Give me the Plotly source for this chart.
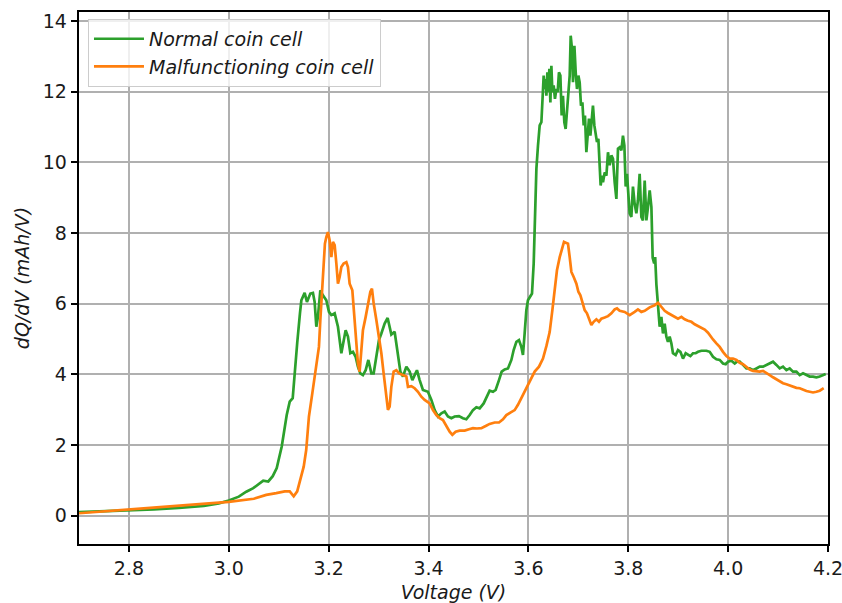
import plotly.graph_objects as go

# Differential capacity curves, dQ/dV versus cell voltage
normal_voltage = [
    2.700, 2.750, 2.800, 2.850, 2.900, 2.950, 2.980, 3.000, 3.020, 3.035, 3.049, 3.060, 3.069, 3.079,
    3.088, 3.096, 3.106, 3.116, 3.122, 3.128, 3.132, 3.137, 3.1425, 3.1453, 3.1519, 3.1565, 3.1633,
    3.1685, 3.1719, 3.1753, 3.1785, 3.1833, 3.1885, 3.1953, 3.2006, 3.2054, 3.2120, 3.2186, 3.2254,
    3.2300, 3.2340, 3.2386, 3.2434, 3.2486, 3.2540, 3.2586, 3.2634, 3.2686, 3.2741, 3.2795, 3.2855,
    3.2901, 3.2955, 3.3007, 3.3055, 3.3121, 3.3181, 3.3255, 3.3321, 3.3388, 3.3436, 3.3488, 3.3556,
    3.3622, 3.3676, 3.3722, 3.3768, 3.3822, 3.3888, 3.3988, 3.4057, 3.4123, 3.4189, 3.4257, 3.4323,
    3.4389, 3.4457, 3.4523, 3.4609, 3.4689, 3.4757, 3.4824, 3.4890, 3.4958, 3.5024, 3.5104, 3.5170,
    3.5224, 3.5291, 3.5344, 3.5411, 3.5465, 3.5525, 3.5591, 3.5659, 3.5705, 3.5759, 3.5811, 3.5859,
    3.5891, 3.5925, 3.5959, 3.5991, 3.6025, 3.6072, 3.6106, 3.6126, 3.6160, 3.6192, 3.6226, 3.6260,
    3.6280, 3.6306, 3.6326, 3.6346, 3.6360, 3.6380, 3.6400, 3.6420, 3.6440, 3.6460, 3.6480, 3.6506,
    3.6532, 3.6560, 3.6586, 3.6612, 3.6640, 3.6666, 3.6692, 3.6720, 3.6746, 3.6772, 3.6801, 3.6827,
    3.6847, 3.6873, 3.6893, 3.6921, 3.6947, 3.6973, 3.7001, 3.7027, 3.7053, 3.7081, 3.7107, 3.7133,
    3.7161, 3.7187, 3.7213, 3.7241, 3.7267, 3.7293, 3.7321, 3.7347, 3.7373, 3.7401, 3.7427, 3.7447,
    3.7473, 3.7494, 3.7528, 3.7562, 3.7594, 3.7628, 3.7662, 3.7694, 3.7728, 3.7762, 3.7794, 3.7828,
    3.7862, 3.7894, 3.7922, 3.7948, 3.7974, 3.8002, 3.8028, 3.8062, 3.8094, 3.8128, 3.8162, 3.8194,
    3.8228, 3.8262, 3.8294, 3.8329, 3.8363, 3.8395, 3.8429, 3.8463, 3.8489, 3.8519, 3.8539, 3.8563,
    3.8595, 3.8629, 3.8663, 3.8695, 3.8729, 3.8763, 3.8795, 3.8829, 3.8863, 3.8895, 3.8949, 3.8996,
    3.9044, 3.9096, 3.9150, 3.9196, 3.9244, 3.9296, 3.9350, 3.9397, 3.9465, 3.9565, 3.9631, 3.9697,
    3.9765, 3.9831, 3.9897, 3.9951, 3.9997, 4.0065, 4.0132, 4.0178, 4.0232, 4.0298, 4.0366, 4.0432,
    4.0498, 4.0566, 4.0632, 4.0699, 4.0767, 4.0833, 4.0899, 4.0967, 4.1033, 4.1099, 4.1167, 4.1233,
    4.1299, 4.1367, 4.1434, 4.1500, 4.1568, 4.1634, 4.1700, 4.1768, 4.1834, 4.1900, 4.1954,
]
normal_dqdv = [
    0.10, 0.12, 0.15, 0.18, 0.22, 0.28, 0.35, 0.43, 0.54, 0.68, 0.78, 0.90, 0.99, 0.97,
    1.12, 1.35, 1.96, 2.85, 3.23, 3.33, 3.93, 4.89, 5.73, 6.10, 6.31, 6.05, 6.29,
    6.31, 6.05, 5.35, 5.63, 6.38, 6.24, 6.10, 5.77, 5.68, 5.73, 5.35, 4.60,
    4.97, 5.25, 5.07, 4.60, 4.64, 4.50, 4.22, 4.03, 3.98, 4.12, 4.41, 4.03,
    4.03, 4.50, 4.97, 5.16, 5.44, 5.60, 5.13, 5.21, 4.60, 4.08, 3.94, 4.22,
    4.08, 3.84, 3.98, 4.12, 3.84, 3.56, 3.51, 3.28, 2.99, 2.81, 2.90, 2.95,
    2.81, 2.76, 2.81, 2.82, 2.76, 2.73, 2.85, 2.99, 3.07, 3.04, 3.18, 3.37,
    3.54, 3.51, 3.56, 3.84, 4.08, 4.14, 4.17, 4.41, 4.69, 4.92, 4.97, 4.78,
    4.55, 5.16, 5.82, 6.10, 6.20, 6.29, 7.14, 8.40, 9.82, 10.48, 11.05, 11.14,
    11.99, 12.46, 12.08, 12.36, 11.89, 12.55, 11.99, 12.65, 11.70, 12.74, 11.99, 12.18,
    11.80, 12.08, 11.99, 12.55, 12.46, 11.33, 11.89, 11.14, 10.95, 11.52, 12.08, 12.46,
    13.59, 13.21, 12.27, 13.30, 12.55, 12.08, 12.46, 12.27, 11.61, 11.70, 11.05, 11.33,
    10.29, 10.76, 11.24, 10.76, 11.14, 11.61, 11.05, 10.86, 10.58, 10.67, 9.92, 9.35,
    9.63, 9.44, 9.72, 9.63, 10.29, 9.92, 10.20, 10.10, 9.44, 8.97, 10.39, 10.43,
    10.34, 10.76, 10.48, 9.32, 9.68, 9.12, 8.56, 8.46, 9.32, 8.83, 8.56, 8.93,
    9.68, 8.46, 8.36, 9.49, 8.36, 8.74, 9.21, 8.74, 7.30, 7.14, 7.32, 6.55,
    5.90, 5.35, 5.63, 5.16, 5.44, 5.07, 4.92, 5.07, 4.88, 4.60, 4.55, 4.69,
    4.64, 4.45, 4.60, 4.55, 4.52, 4.60, 4.60, 4.64, 4.67, 4.67, 4.64, 4.50,
    4.43, 4.41, 4.31, 4.29, 4.36, 4.39, 4.31, 4.36, 4.36, 4.27, 4.17, 4.17,
    4.12, 4.17, 4.22, 4.22, 4.27, 4.31, 4.36, 4.27, 4.17, 4.22, 4.12, 4.17,
    4.08, 4.08, 3.98, 4.03, 3.98, 3.94, 3.94, 3.92, 3.94, 3.98, 4.01,
]

faulty_voltage = [
    2.700, 2.750, 2.800, 2.850, 2.900, 2.950, 3.000, 3.050, 3.075, 3.095, 3.112, 3.122, 3.130, 3.137,
    3.145, 3.150, 3.155, 3.1605, 3.1673, 3.1719, 3.1765, 3.1805, 3.1833, 3.1853, 3.1873, 3.1899,
    3.1925, 3.1953, 3.1985, 3.2019, 3.2054, 3.2086, 3.2120, 3.2154, 3.2186, 3.2220, 3.2254, 3.2300,
    3.2354, 3.2386, 3.2420, 3.2474, 3.2520, 3.2554, 3.2586, 3.2620, 3.2654, 3.2686, 3.2741, 3.2787,
    3.2835, 3.2867, 3.2901, 3.2955, 3.3007, 3.3055, 3.3101, 3.3141, 3.3187, 3.3221, 3.3255, 3.3301,
    3.3355, 3.3411, 3.3476, 3.3556, 3.3588, 3.3656, 3.3722, 3.3788, 3.3856, 3.3922, 3.4022, 3.4089,
    3.4157, 3.4223, 3.4289, 3.4357, 3.4423, 3.4477, 3.4543, 3.4623, 3.4724, 3.4810, 3.4890, 3.4970,
    3.5058, 3.5144, 3.5224, 3.5324, 3.5411, 3.5491, 3.5559, 3.5639, 3.5725, 3.5791, 3.5859, 3.5925,
    3.5991, 3.6060, 3.6126, 3.6212, 3.6292, 3.6360, 3.6426, 3.6480, 3.6526, 3.6572, 3.6627, 3.6681,
    3.6713, 3.6761, 3.6793, 3.6827, 3.6861, 3.6907, 3.6961, 3.7001, 3.7041, 3.7081, 3.7127, 3.7173,
    3.7213, 3.7261, 3.7307, 3.7361, 3.7413, 3.7461, 3.7528, 3.7594, 3.7662, 3.7728, 3.7774, 3.7828,
    3.7928, 3.8028, 3.8128, 3.8194, 3.8262, 3.8329, 3.8429, 3.8529, 3.8595, 3.8663, 3.8729, 3.8795,
    3.8863, 3.8930, 3.8996, 3.9064, 3.9130, 3.9196, 3.9264, 3.9330, 3.9397, 3.9465, 3.9531, 3.9597,
    3.9645, 3.9697, 3.9765, 3.9831, 3.9897, 3.9965, 4.0031, 4.0098, 4.0166, 4.0232, 4.0298, 4.0366,
    4.0432, 4.0498, 4.0566, 4.0632, 4.0699, 4.0767, 4.0833, 4.0899, 4.0967, 4.1033, 4.1099, 4.1167,
    4.1233, 4.1299, 4.1367, 4.1434, 4.1500, 4.1568, 4.1634, 4.1700, 4.1768, 4.1834, 4.1914,
]
faulty_dqdv = [
    0.07, 0.12, 0.17, 0.22, 0.28, 0.33, 0.39, 0.48, 0.59, 0.64, 0.69, 0.69, 0.55, 0.69,
    1.11, 1.39, 1.86, 2.81, 3.47, 3.93, 4.31, 4.78, 5.54, 6.01, 6.67, 7.42,
    7.70, 7.89, 8.03, 7.80, 7.32, 7.75, 7.66, 7.14, 6.57, 6.76, 7.04, 7.14,
    7.18, 7.04, 6.57, 6.38, 5.63, 4.88, 4.31, 4.08, 4.78, 5.25, 5.63, 6.01,
    6.34, 6.43, 6.01, 5.54, 5.11, 4.60, 4.03, 3.47, 3.00, 3.09, 3.65, 4.08,
    4.12, 4.03, 3.98, 3.94, 3.65, 3.67, 3.61, 3.51, 3.37, 3.28, 3.18, 2.99,
    2.85, 2.76, 2.71, 2.52, 2.38, 2.29, 2.38, 2.41, 2.41, 2.45, 2.48, 2.47,
    2.48, 2.54, 2.60, 2.64, 2.64, 2.73, 2.85, 2.92, 2.99, 3.14, 3.33, 3.51,
    3.70, 3.89, 4.08, 4.22, 4.45, 4.80, 5.20, 5.82, 6.38, 6.95, 7.32, 7.61,
    7.75, 7.72, 7.70, 7.32, 6.90, 6.76, 6.57, 6.34, 6.24, 6.05, 5.82, 5.73,
    5.58, 5.40, 5.49, 5.56, 5.49, 5.58, 5.61, 5.65, 5.73, 5.84, 5.87, 5.80,
    5.77, 5.68, 5.77, 5.84, 5.77, 5.80, 5.90, 5.96, 6.03, 5.90, 5.80, 5.74,
    5.68, 5.63, 5.58, 5.63, 5.56, 5.52, 5.49, 5.42, 5.37, 5.30, 5.27, 5.18,
    5.07, 4.99, 4.88, 4.78, 4.64, 4.52, 4.45, 4.45, 4.41, 4.33, 4.29, 4.22,
    4.14, 4.10, 4.08, 4.08, 4.10, 4.05, 3.98, 3.92, 3.86, 3.79, 3.75, 3.72,
    3.68, 3.65, 3.62, 3.61, 3.56, 3.53, 3.51, 3.49, 3.51, 3.54, 3.61,
]

x_ticks = [2.8, 3.0, 3.2, 3.4, 3.6, 3.8, 4.0, 4.2]
x_tick_labels = ["2.8", "3.0", "3.2", "3.4", "3.6", "3.8", "4.0", "4.2"]
y_ticks = [0, 2, 4, 6, 8, 10, 12, 14]
y_tick_labels = ["0", "2", "4", "6", "8", "10", "12", "14"]

FONT = "DejaVu Sans"
FS = 19
TEXT = "#1a1a1a"
GREEN = "#2ca02c"
ORANGE = "#ff7f0e"

fig = go.Figure()
fig.add_trace(go.Scatter(
    x=normal_voltage, y=normal_dqdv, mode="lines", name="Normal coin cell",
    line=dict(color=GREEN, width=2.7),
))
fig.add_trace(go.Scatter(
    x=faulty_voltage, y=faulty_dqdv, mode="lines", name="Malfunctioning coin cell",
    line=dict(color=ORANGE, width=2.7),
))

axis_common = dict(
    showline=True, linecolor="black", linewidth=1.5, mirror=True,
    ticks="outside", ticklen=6.5, tickwidth=1.5, tickcolor="black",
    showgrid=True, gridcolor="#b0b0b0", gridwidth=1.5, zeroline=False,
    tickfont=dict(family=FONT, size=FS, color=TEXT),
    ticklabeloverflow="allow",
    automargin=False,
)

fig.update_xaxes(
    range=[2.7, 4.2000001], tickvals=x_ticks, ticktext=x_tick_labels,
    title=dict(text="<i>Voltage (V)</i>", font=dict(family=FONT, size=FS, color=TEXT), standoff=10),
    **axis_common,
)
fig.update_yaxes(
    range=[-0.8, 14.26], tickvals=y_ticks, ticktext=y_tick_labels,
    title=dict(text="<i>dQ/dV (mAh/V)</i>", font=dict(family=FONT, size=FS, color=TEXT), standoff=8),
    **axis_common,
)

fig.update_layout(
    width=842, height=603,
    margin=dict(l=79, r=14, t=12, b=59),
    paper_bgcolor="white", plot_bgcolor="white",
    font=dict(family=FONT, size=FS, color=TEXT),
    showlegend=True,
    legend=dict(
        x=0.012, y=0.987, xanchor="left", yanchor="top",
        bgcolor="rgba(255,255,255,0.8)", bordercolor="#cccccc", borderwidth=1,
        font=dict(family=FONT, size=FS, style="italic", color=TEXT),
        itemwidth=50, tracegroupgap=0,
    ),
)

fig.write_html("out.html")
